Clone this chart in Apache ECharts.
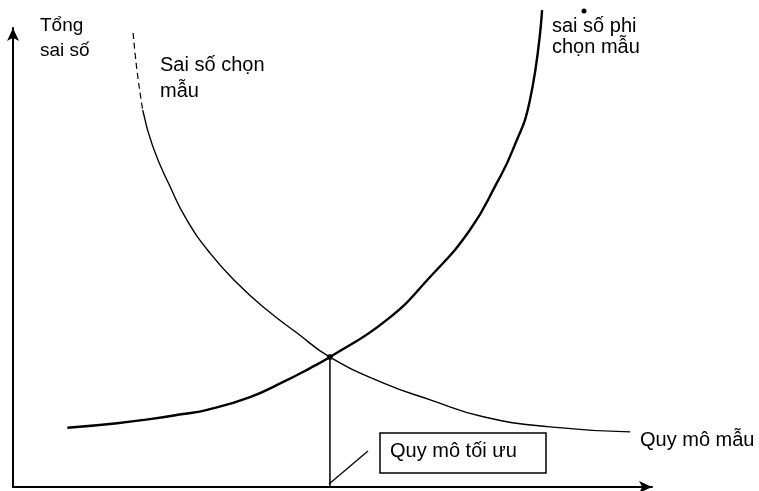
<!DOCTYPE html>
<html style="height: 100%">
   <head>
       <meta charset="utf-8">
       <title>Quy mô mẫu tối ưu</title>
   </head>
   <body style="height: 100%; margin: 0; background: #fff">
        <div id="container" style="height: 100%"></div>
        <script src="https://cdn.jsdelivr.net/npm/echarts@6/dist/echarts.min.js"></script>
        <script type="text/javascript">
            // Sai số chọn mẫu (giảm dần khi cỡ mẫu tăng); đoạn đầu nét đứt
            var samplingTopX = [18.8, 19.4, 20.3];
            var samplingTopY = [98.9, 90.8, 82.1];
            var samplingX = [20.3, 21.9, 24.6, 27.2, 30.8, 35.1, 39.7, 44.4, 49.6, 57.9, 65.3, 73.6, 84.0, 96.6];
            var samplingY = [82.1, 74.1, 65.4, 58.2, 51.0, 44.4, 38.6, 33.6, 28.3, 22.7, 19.0, 15.3, 13.1, 12.0];
            // Sai số phi chọn mẫu (tăng dần)
            var nonSamplingX = [8.5, 16.3, 21.4, 26.6, 30.4, 37.1, 42.3, 46.5, 49.6, 58.5, 65.3, 71.5, 75.7, 78.2, 80.9, 82.8];
            var nonSamplingY = [12.9, 13.9, 14.8, 15.9, 16.8, 19.6, 22.9, 25.9, 28.3, 36.4, 45.8, 56.0, 66.2, 73.4, 84.3, 103.9];
            // điểm tối ưu
            var optimum = [49.6, 28.3];

            var zip = function (xs, ys) {
                var res = [];
                for (var i = 0; i < xs.length; i++) {
                    res.push([xs[i], ys[i]]);
                }
                return res;
            };

            var dom = document.getElementById("container");
            var myChart = echarts.init(dom);
            var font = '"Liberation Sans", Arial, sans-serif';

            var option = {
                backgroundColor: '#fff',
                animation: false,
                grid: {left: 13, right: 107, top: 28, bottom: 4},
                xAxis: {
                    type: 'value', min: 0, max: 100,
                    axisLine: {lineStyle: {color: '#000', width: 2}, symbol: ['none', 'arrow'], symbolSize: [9, 13]},
                    axisTick: {show: false}, axisLabel: {show: false}, splitLine: {show: false}
                },
                yAxis: {
                    type: 'value', min: 0, max: 100,
                    axisLine: {lineStyle: {color: '#000', width: 2}, symbol: ['none', 'arrow'], symbolSize: [9, 13]},
                    axisTick: {show: false}, axisLabel: {show: false}, splitLine: {show: false}
                },
                series: [
                    {
                        name: 'Sai số chọn mẫu (đầu)',
                        type: 'line',
                        smooth: 0.5,
                        symbol: 'none',
                        clip: false,
                        lineStyle: {color: '#000', width: 1.2, type: [6, 4]},
                        data: zip(samplingTopX, samplingTopY)
                    },
                    {
                        name: 'Sai số chọn mẫu',
                        type: 'line',
                        smooth: 0.5,
                        symbol: 'none',
                        clip: false,
                        lineStyle: {color: '#000', width: 1.4},
                        data: zip(samplingX, samplingY)
                    },
                    {
                        name: 'sai số phi chọn mẫu',
                        type: 'line',
                        smooth: 0.5,
                        symbol: 'none',
                        clip: false,
                        lineStyle: {color: '#000', width: 2.4},
                        data: zip(nonSamplingX, nonSamplingY)
                    },
                    {
                        name: 'vertical',
                        type: 'line',
                        symbol: 'none',
                        lineStyle: {color: '#000', width: 1.5},
                        data: [optimum, [optimum[0], 0]]
                    },
                    {
                        name: 'optimum',
                        type: 'scatter',
                        symbolSize: 6,
                        itemStyle: {color: '#000'},
                        data: [optimum]
                    }
                ],
                graphic: [
                    {type: 'text', left: 40, top: 13, style: {text: 'Tổng\nsai số', font: '19px ' + font, lineHeight: 25, fill: '#000'}},
                    {type: 'text', left: 160, top: 52, style: {text: 'Sai số chọn\nmẫu', font: '20px ' + font, lineHeight: 26, fill: '#000'}},
                    {type: 'text', left: 552, top: 16, style: {text: 'sai số phi\nchọn mẫu', font: '20px ' + font, lineHeight: 21, fill: '#000'}},
                    {type: 'circle', shape: {cx: 584, cy: 11, r: 2.5}, style: {fill: '#000'}},
                    {type: 'text', left: 640, top: 430, style: {text: 'Quy mô mẫu', font: '20px ' + font, fill: '#000'}},
                    {type: 'rect', shape: {x: 380, y: 433, width: 166, height: 40}, style: {fill: '#fff', stroke: '#000', lineWidth: 1.5}},
                    {type: 'text', left: 390, top: 441, style: {text: 'Quy mô tối ưu', font: '20px ' + font, fill: '#000'}},
                    {type: 'line', shape: {x1: 329, y1: 484, x2: 368, y2: 451}, style: {stroke: '#000', lineWidth: 1.3}}
                ]
            };
            myChart.setOption(option, true);
       </script>
   </body>
</html>
